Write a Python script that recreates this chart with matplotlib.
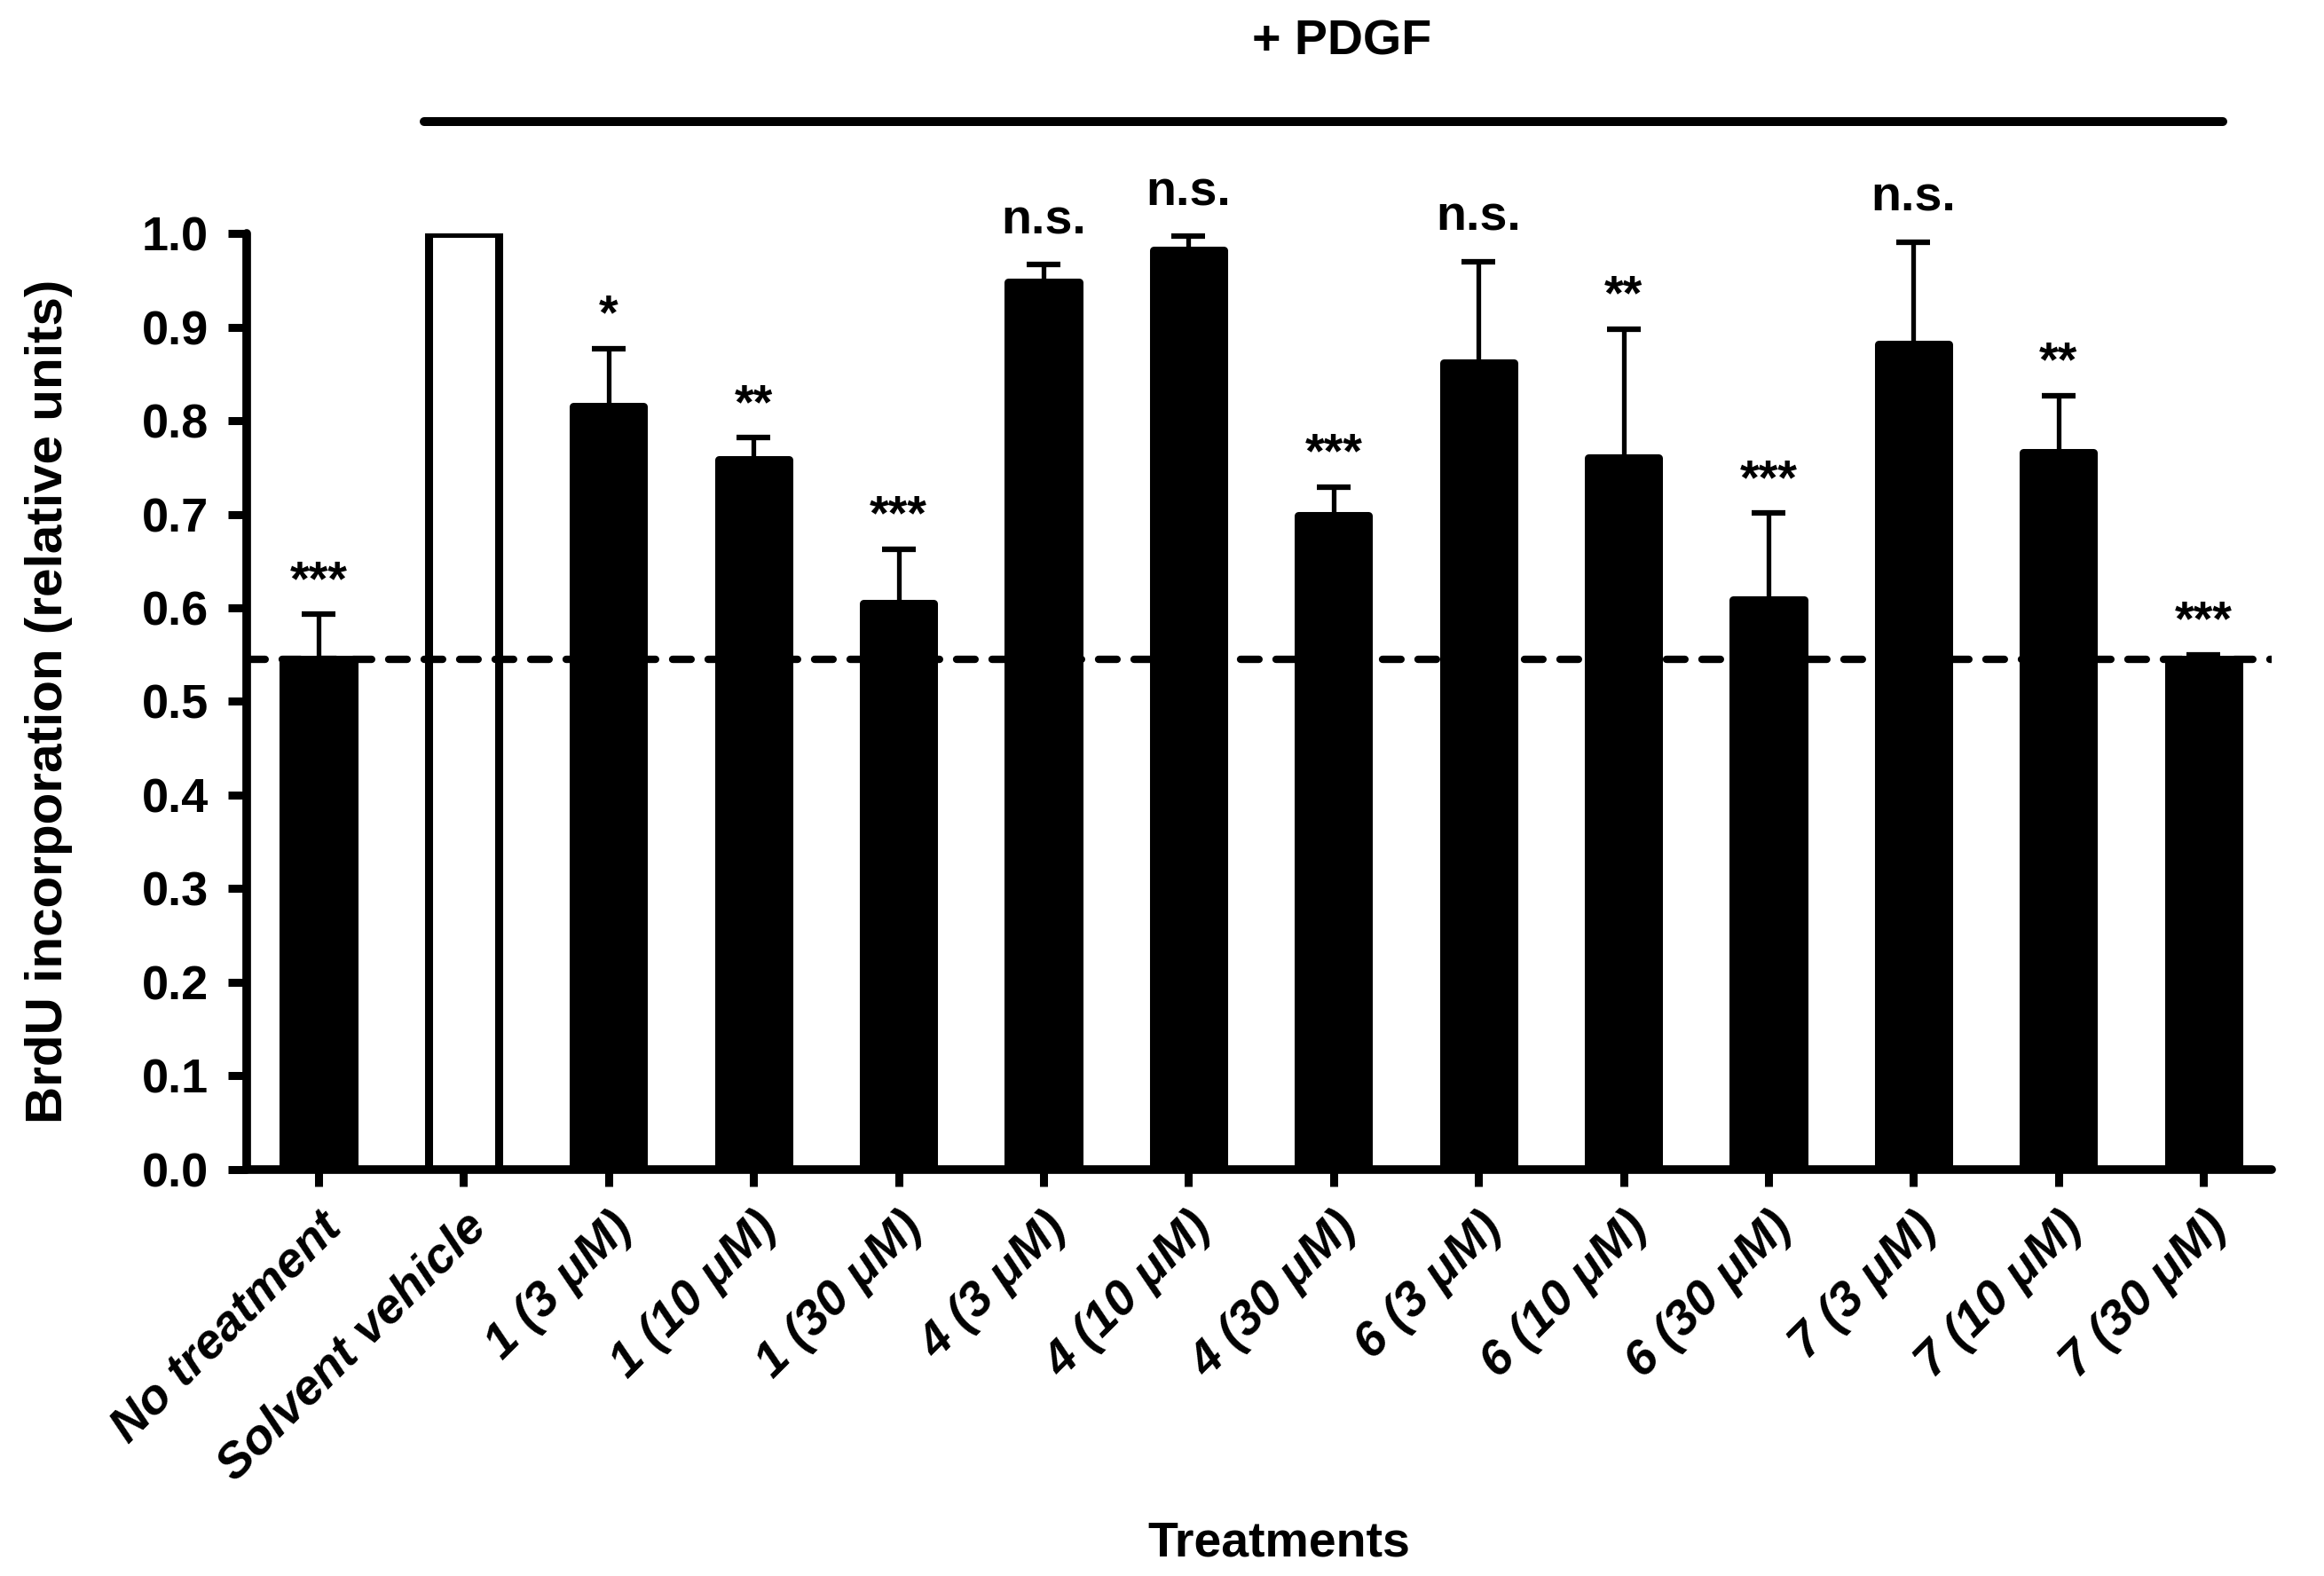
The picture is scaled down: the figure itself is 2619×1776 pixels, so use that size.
import matplotlib
matplotlib.use("Agg")
import matplotlib.pyplot as plt

plt.rcParams['font.family'] = ['Liberation Sans', 'DejaVu Sans']
plt.rcParams['font.weight'] = 'bold'

labels = ['No treatment', 'Solvent vehicle', '1 (3 μM)', '1 (10 μM)', '1 (30 μM)',
          '4 (3 μM)', '4 (10 μM)', '4 (30 μM)', '6 (3 μM)', '6 (10 μM)', '6 (30 μM)',
          '7 (3 μM)', '7 (10 μM)', '7 (30 μM)']
means = [0.545, 1.0, 0.815, 0.758, 0.605, 0.948, 0.982, 0.699, 0.862, 0.760, 0.609, 0.882, 0.766, 0.545]
errs = [0.048, 0.0, 0.062, 0.024, 0.058, 0.019, 0.015, 0.030, 0.108, 0.138, 0.092, 0.109, 0.061, 0.005]
signif = ['***', '', '*', '**', '***', 'n.s.', 'n.s.', '***', 'n.s.', '**', '***', 'n.s.', '**', '***']
baseline = 0.545

fig = plt.figure(figsize=(26.19, 17.76), dpi=100)
ax = fig.add_axes([0.1061, 0.2579, 0.8714, 0.594])

x = list(range(len(labels)))
colors = ['white' if i == 1 else 'black' for i in x]
ax.bar(x, means, width=0.485, color=colors, edgecolor='black', linewidth=6.5,
       joinstyle='round', zorder=2)
ax.errorbar(x, means, yerr=[[0] * len(errs), errs], fmt='none', ecolor='black',
            elinewidth=3.8, capsize=14, capthick=4.5, zorder=3)

ax.axhline(baseline, color='black', linewidth=6, linestyle=(0, (2.5, 2.3)),
           dash_capstyle='round', zorder=4)

for i in x:
    if signif[i]:
        off = 25 if signif[i] == 'n.s.' else 16
        ax.annotate(signif[i], (i, means[i] + errs[i]), xytext=(0, off),
                    textcoords='offset points', ha='center', va='baseline',
                    fontsize=40, fontweight='bold')

ax.set_xlim(-0.496, 13.47)
ax.set_ylim(0, 1.0)
ax.set_yticks([i / 10 for i in range(11)])
ax.set_yticklabels(['%.1f' % (i / 10) for i in range(11)])
ax.set_xticks(x)
ax.set_xticklabels(labels, rotation=45, ha='right', rotation_mode='anchor',
                   fontstyle='italic', fontweight='bold')

for side in ['top', 'right']:
    ax.spines[side].set_visible(False)
for side in ['left', 'bottom']:
    ax.spines[side].set_linewidth(7)
    ax.spines[side].set_capstyle('round')
ax.tick_params(axis='y', length=15, width=6.5, labelsize=39, pad=16)
ax.tick_params(axis='x', length=14, width=6.5, labelsize=40, pad=14)

ax.set_ylabel('BrdU incorporation (relative units)', fontsize=42, fontweight='bold')
ax.yaxis.set_label_coords(-0.086, 0.5)
ax.set_xlabel('Treatments', fontsize=40, fontweight='bold')
ax.xaxis.set_label_coords(0.51, -0.375)

# + PDGF bracket
trans = ax.get_xaxis_transform()
ax.plot([0.73, 13.13], [1.119, 1.119], color='black', linewidth=7.2, transform=trans,
        clip_on=False, solid_capstyle='round')
ax.text(7.06, 1.204, '+ PDGF', transform=trans, ha='center', va='center',
        fontsize=40, fontweight='bold')

fig.savefig('out.png', dpi=100)
